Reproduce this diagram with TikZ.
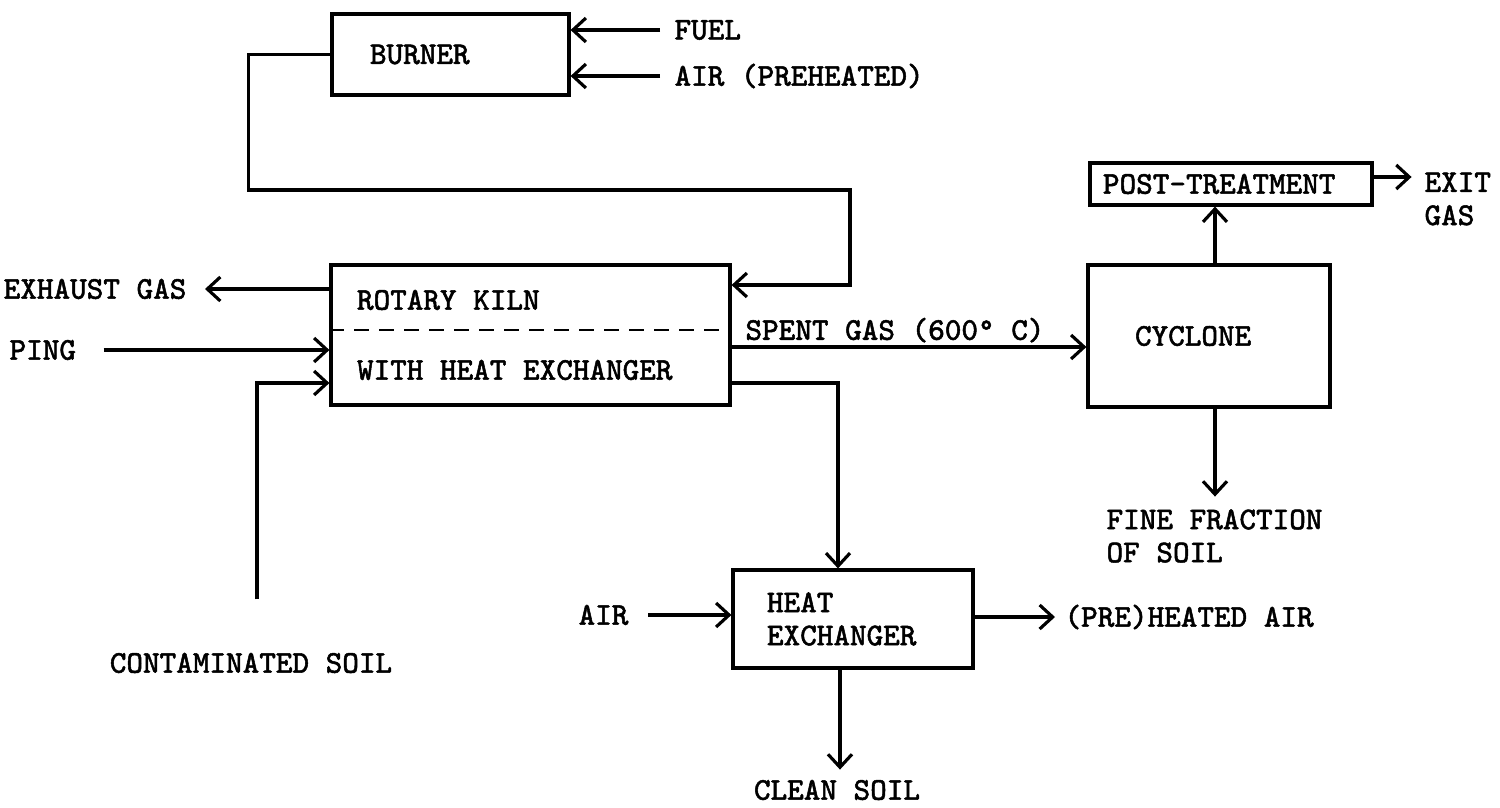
\documentclass[tikz,border=0pt]{standalone}
\usepackage{fontspec}
\setmonofont{Latin Modern Mono}[AutoFakeBold=1.6]
\usetikzlibrary{arrows.meta}

\begin{document}
\begin{tikzpicture}[
  font=\ttfamily\bfseries\fontsize{9}{9.4}\selectfont,
  line width=0.9pt,
  flow/.style={-{Straight Barb[length=1.3mm,width=2.4mm]}},
  unit/.style={draw, align=left, inner ysep=0pt, execute at begin node={\spaceskip=0pt\xspaceskip=0pt}},
  tag/.style={inner sep=0pt, align=left}
]
\useasboundingbox (0,0) rectangle (15,8.07);

% process units
\node[unit, text width=1.61cm, inner xsep=0.38cm, minimum height=0.81cm] (burner)  at (4.505,7.525) {BURNER};
\node[unit, text width=3.47cm, inner xsep=0.26cm, minimum height=1.40cm] (kiln)    at (5.305,4.72) {ROTARY KILN\\[0.37cm]WITH HEAT EXCHANGER};
\node[unit, text width=1.48cm, inner xsep=0.47cm, minimum height=1.42cm] (cyclone) at (12.09,4.71) {CYCLONE};
\node[unit, text width=2.56cm, inner xsep=0.13cm, minimum height=0.42cm] (post)    at (12.31,6.23) {POST-TREATMENT};
\node[unit, text width=1.72cm, inner xsep=0.34cm, minimum height=0.98cm] (hx)      at (8.53,1.88) {HEAT\\EXCHANGER};

\draw[dash pattern=on 1.5mm off 1mm, line width=0.7pt] ([yshift=0.05cm]kiln.west) -- ([yshift=0.05cm]kiln.east);

% streams in and out
\node[tag, anchor=west] (fuel)    at (6.73,7.77) {FUEL};
\node[tag, anchor=west] (airpre)  at (6.73,7.31) {AIR (PREHEATED)};
\node[tag, anchor=east] (exhaust) at (1.88,5.18) {EXHAUST GAS};
\node[tag, anchor=west] (ping)    at (0.08,4.57) {PING};
\node[tag]              (soil)    at (2.51,1.44) {CONTAMINATED SOIL};
\node[tag, anchor=south](spent)   at (8.95,4.63) {SPENT GAS (600° C)};
\node[tag, anchor=west] (exit)    at (14.23,6.08) {EXIT\\GAS};
\node[tag, anchor=west] (fines)   at (11.05,2.71) {FINE FRACTION\\OF SOIL};
\node[tag, anchor=east] (air)     at (6.30,1.92) {AIR};
\node[tag, anchor=west] (hotair)  at (10.63,1.90) {(PRE)HEATED AIR};
\node[tag]              (clean)   at (8.37,0.17) {CLEAN SOIL};

% burner
\draw[flow] ([xshift=-0.13cm]fuel.west) -- (fuel.west -| burner.east);
\draw[flow] ([xshift=-0.13cm]airpre.west) -- (airpre.west -| burner.east);
\draw[flow] (burner.west) -- ++(-0.82,0) |- (8.50,6.17) |- ([yshift=0.50cm]kiln.east);

% rotary kiln
\draw[flow] (exhaust.east -| kiln.west) -- ([xshift=0.17cm]exhaust.east);
\draw[flow] ([xshift=0.26cm]ping.east) -- (ping.east -| kiln.west);
\draw[flow] ([shift={(0.06,0.52)}]soil.north) |- ([yshift=-0.48cm]kiln.west);
\draw[flow] ([yshift=-0.12cm]kiln.east) -- ([yshift=-0.11cm]cyclone.west);
\draw[flow] ([yshift=-0.48cm]kiln.east) -| ([xshift=-0.15cm]hx.north);

% cyclone
\draw[flow] ([xshift=0.06cm]cyclone.north) -- ([xshift=-0.16cm]post.south);
\draw[flow] ([yshift=0.07cm]post.east) -- ++(0.38,0);
\draw[flow] ([xshift=0.06cm]cyclone.south) -- ++(0,-0.88);

% heat exchanger
\draw[flow] ([xshift=0.18cm]air.east) -- (air.east -| hx.west);
\draw[flow] (hx.east |- hotair.west) -- ([xshift=-0.08cm]hotair.west);
\draw[flow] ([xshift=-0.13cm]hx.south) -- ++(0,-1.0);
\end{tikzpicture}
\end{document}
